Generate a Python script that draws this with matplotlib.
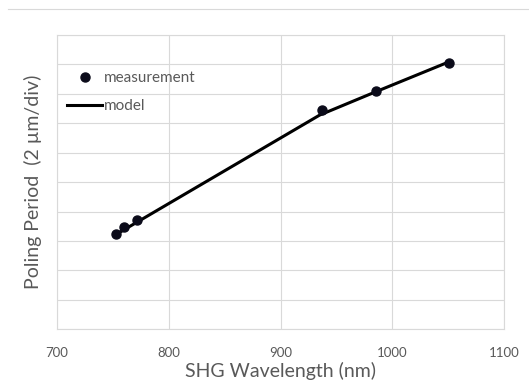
import matplotlib
matplotlib.use("Agg")
import matplotlib.pyplot as plt
from matplotlib.lines import Line2D

# measured points (wavelength nm, period in divisions of 2 um)
meas_wl = [752.7, 760.4, 771.4, 937.1, 985.7, 1050.5]
meas_p = [3.23, 3.48, 3.72, 7.46, 8.11, 9.06]

# model curve
model_wl = [752, 935, 985, 1050]
model_p = [3.20, 7.28, 8.07, 9.08]

xticks = [700, 800, 900, 1000, 1100]

plt.rcParams['font.family'] = ['Lato', 'DejaVu Sans']
txt = '#595959'
grid = '#d9d9d9'

fig = plt.figure(figsize=(5.29, 3.85), dpi=100)
ax = fig.add_axes([0.1072, 0.1447, 0.8461, 0.7643])

ax.plot(model_wl, model_p, color='black', lw=2.2, label='model', zorder=3)
ax.plot(meas_wl, meas_p, 'o', color='#0b0b1a', ms=6.5, label='measurement', zorder=4)

ax.set_xlim(700, 1100)
ax.set_ylim(0, 10)
ax.set_xticks(xticks)
ax.set_yticks(range(0, 11))
ax.set_yticklabels([])
ax.tick_params(length=0, labelsize=9.5, labelcolor=txt)
ax.tick_params(axis='x', pad=13)
ax.grid(True, color=grid, lw=0.8)
for s in ax.spines.values():
    s.set_color(grid)
    s.set_linewidth(0.8)

ax.set_xlabel('SHG Wavelength (nm)', fontsize=14, color=txt, labelpad=2)
ax.set_ylabel('Poling Period  (2 µm/div)', fontsize=14, color=txt, labelpad=7)

h, l = ax.get_legend_handles_labels()
leg = ax.legend(h[::-1], l[::-1], loc='upper left', bbox_to_anchor=(0.022, 0.878),
                frameon=False, fontsize=11, handlelength=2.35, handletextpad=0.1,
                labelspacing=0.95, borderaxespad=0, borderpad=0)
for t in leg.get_texts():
    t.set_color(txt)

fig.add_artist(Line2D([8 / 529, 1], [1 - 9 / 385, 1 - 9 / 385], color=grid, lw=0.8))

fig.savefig('out.png', dpi=100)
